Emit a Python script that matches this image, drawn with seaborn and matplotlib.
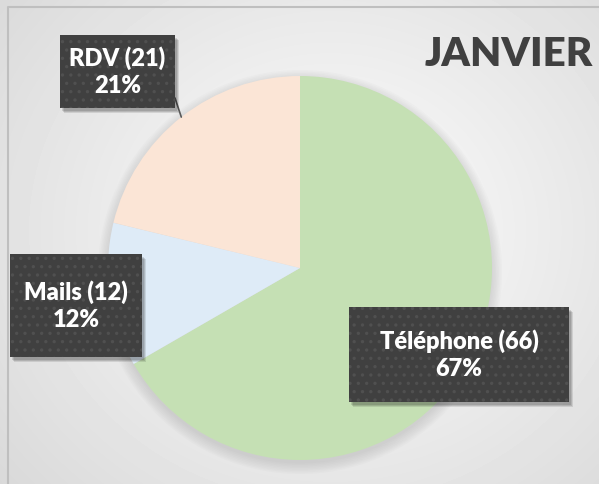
import matplotlib
matplotlib.use("Agg")
import matplotlib.pyplot as plt
from matplotlib.patches import Rectangle, Circle
import numpy as np
import seaborn as sns

categories = ["Téléphone", "Mails", "RDV"]
counts = [66, 12, 21]
percents = ["67%", "12%", "21%"]
colors = ["#C5E0B4", "#DEEBF7", "#FBE5D6"]

sns.set_theme(style="white")
plt.rcParams["font.family"] = ["Lato", "DejaVu Sans"]
plt.rcParams["hatch.color"] = "#505050"
plt.rcParams["hatch.linewidth"] = 1.2

W, H = 599, 484
fig = plt.figure(figsize=(W / 100, H / 100), dpi=100)

# background: soft radial gradient
bg = fig.add_axes([0, 0, 1, 1], zorder=0)
yy, xx = np.mgrid[0:H, 0:W]
d = np.sqrt(((xx - 330) / 420.0) ** 2 + ((yy - 230) / 380.0) ** 2)
g = np.clip(0.995 - 0.14 * d, 0.85, 0.99)
bg.imshow(g, cmap="gray", vmin=0, vmax=1, extent=[0, W, H, 0], aspect="auto")
bg.plot([8, 8, W], [H, 7, 7], color="#bfbfbf", lw=1.5)
# soft shadow under the pie
cx, cy, r = 300, 268, 192
for k in range(8):
    bg.add_patch(Circle((cx, cy + 4), r + 10 - k * 1.5, color="#808080", alpha=0.03, lw=0))
bg.set_xlim(0, W)
bg.set_ylim(H, 0)
bg.axis("off")

# pie axes
ax = fig.add_axes([(cx - r) / W, (H - cy - r) / H, 2 * r / W, 2 * r / H], zorder=1)
ax.set_facecolor("none")
wedges, _ = ax.pie(counts, colors=colors, startangle=90, counterclock=False,
                   radius=1, wedgeprops=dict(linewidth=0))
ax.set_xlim(-1, 1)
ax.set_ylim(-1, 1)
ax.set_aspect("equal")
ax.axis("off")

# overlay for labels
ov = fig.add_axes([0, 0, 1, 1], zorder=2)
ov.set_xlim(0, W)
ov.set_ylim(H, 0)
ov.axis("off")
ov.patch.set_alpha(0)

# leader line for RDV
frac = np.cumsum([0] + counts) / sum(counts)
mid = (frac[2] + frac[3]) / 2 * 2 * np.pi
ex, ey = cx + r * np.sin(mid), cy - r * np.cos(mid)
ov.plot([175, ex], [98, ey], color="#595959", lw=1.2, zorder=1)

boxes = [(349, 307, 569, 402), (10, 254, 142, 357), (60, 35, 175, 108)]
for i, (name, n, pc) in enumerate(zip(categories, counts, percents)):
    x0, y0, x1, y1 = boxes[i]
    for k, a in enumerate([0.12, 0.12, 0.1]):
        ov.add_patch(Rectangle((x0 + 2 + k, y0 + 3 + k), x1 - x0, y1 - y0,
                               facecolor="#000000", alpha=a, lw=0, zorder=2))
    ov.add_patch(Rectangle((x0, y0), x1 - x0, y1 - y0, facecolor="#404040",
                           edgecolor="#505050", lw=0, hatch="..", zorder=3))
    ov.text((x0 + x1) / 2, (y0 + y1) / 2, f"{name} ({n})\n{pc}", ha="center",
            va="center", color="white", fontsize=17, fontweight="heavy",
            linespacing=1.3, zorder=4)

ov.text(593, 55, "JANVIER", ha="right", va="center", fontsize=29,
        fontweight="heavy", color="#404040")

fig.savefig("out.png", dpi=100)
